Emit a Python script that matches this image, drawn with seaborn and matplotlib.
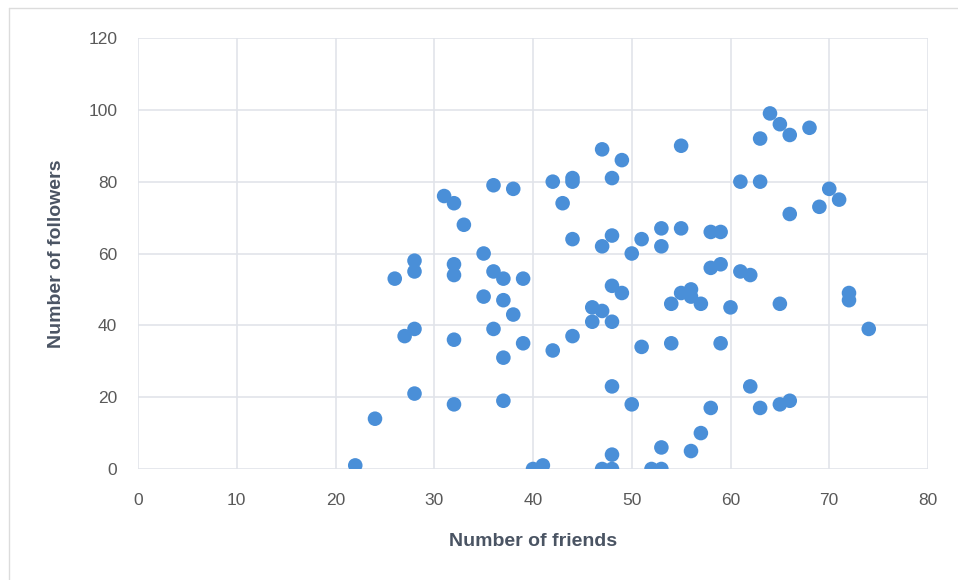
import matplotlib
matplotlib.use('Agg')
import pandas as pd
import seaborn as sns
import matplotlib.pyplot as plt
from matplotlib.lines import Line2D

# friends / followers
friends = [22, 24, 26, 27, 28, 28, 28, 28, 31, 32, 33, 32, 32, 32, 32,
           35, 35, 36, 36, 36, 37, 37, 37, 37, 38, 38, 39, 39, 40, 41,
           42, 42, 43, 44, 44, 44, 44, 46, 46, 47, 47, 47, 47,
           48, 48, 48, 48, 48, 48, 48, 49, 49, 50, 50, 51, 51, 52,
           53, 53, 53, 53, 54, 54, 55, 55, 55, 56, 56, 56, 57, 57,
           58, 58, 58, 59, 59, 59, 60, 61, 61, 62, 62, 63, 63, 63,
           64, 65, 65, 65, 66, 66, 66, 68, 69, 70, 71, 72, 72, 74]
followers = [1, 14, 53, 37, 58, 55, 39, 21, 76, 74, 68, 57, 54, 36, 18,
             60, 48, 79, 55, 39, 53, 47, 31, 19, 78, 43, 53, 35, 0, 1,
             80, 33, 74, 80, 81, 64, 37, 45, 41, 89, 62, 44, 0,
             81, 65, 51, 41, 23, 4, 0, 86, 49, 60, 18, 64, 34, 0,
             67, 62, 6, 0, 46, 35, 90, 67, 49, 50, 48, 5, 46, 10,
             66, 56, 17, 66, 57, 35, 45, 80, 55, 54, 23, 92, 80, 17,
             99, 96, 46, 18, 93, 71, 19, 95, 73, 78, 75, 49, 47, 39]

x_ticks = list(range(0, 81, 10))
y_ticks = list(range(0, 121, 20))

df = pd.DataFrame({'friends': friends, 'followers': followers})

sns.set_style('white')
plt.rcParams['font.family'] = ['Liberation Sans', 'DejaVu Sans']

fig = plt.figure(figsize=(9.58, 5.8), dpi=100)
ax = fig.add_axes([138 / 958, 111 / 580, 790 / 958, 431 / 580])

sns.scatterplot(data=df, x='friends', y='followers', ax=ax, s=110,
                color='#4a8fd8', edgecolor='none', zorder=3)

ax.set_xlim(0, 80)
ax.set_ylim(0, 120)
ax.set_xticks(x_ticks)
ax.set_yticks(y_ticks)
ax.grid(True, color='#e1e4ea', linewidth=1.2)
for s in ax.spines.values():
    s.set_visible(False)
ax.tick_params(axis='both', length=0, labelsize=12.5, colors='#595959')
ax.tick_params(axis='x', pad=17)
ax.tick_params(axis='y', pad=15)

ax.set_xlabel('Number of friends', fontsize=14, fontweight='bold',
              color='#4a5463', labelpad=18)
ax.set_ylabel('Number of followers', fontsize=14, fontweight='bold',
              color='#4a5463', labelpad=17)

# outer chart-area border (left and top edges visible)
fig.add_artist(Line2D([9 / 958, 9 / 958], [0, 1 - 8 / 580],
                      transform=fig.transFigure, color='#dcdcdc', lw=1))
fig.add_artist(Line2D([9 / 958, 1], [1 - 8 / 580, 1 - 8 / 580],
                      transform=fig.transFigure, color='#dcdcdc', lw=1))

fig.savefig('out.png', dpi=100)
